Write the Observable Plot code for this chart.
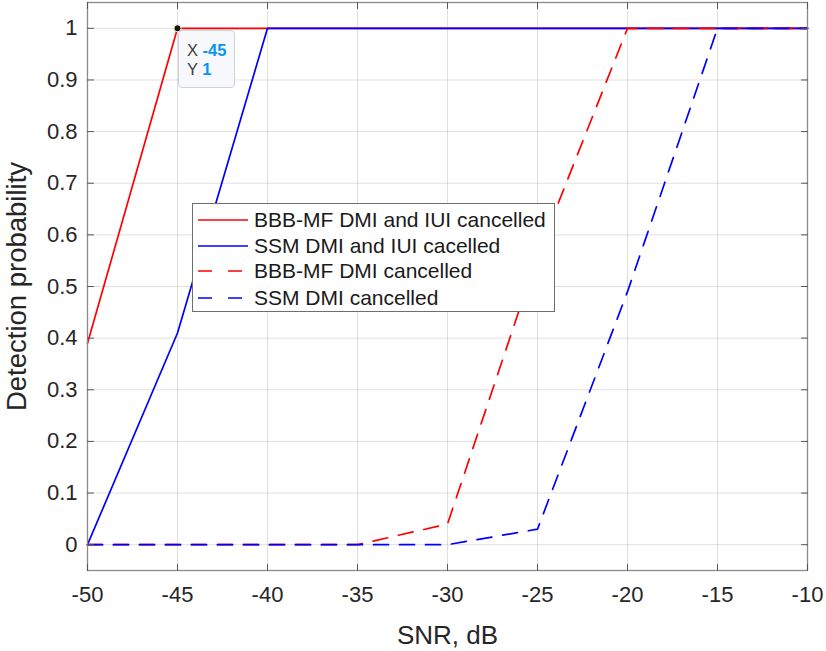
<!DOCTYPE html>
<html>
<head>
<meta charset="utf-8">
<script src="https://cdn.jsdelivr.net/npm/d3@7"></script>
<script src="https://cdn.jsdelivr.net/npm/@observablehq/plot@0.6"></script>
<style>
  body { margin: 0; background: #fff; }
  #wrap { position: relative; width: 826px; height: 651px; font-family: "Liberation Sans", Arial, Helvetica, sans-serif; }
  #legend { position: absolute; left: 192px; top: 203px; width: 363px; height: 109px; border: 1px solid #6e6e6e; background: #fff; box-sizing: border-box; }
  .row { position: absolute; left: 0; height: 26px; display: flex; align-items: center; font-size: 21px; color: #1a1a1a; white-space: nowrap; }
  .row svg { margin-left: 5px; margin-right: 6px; }
  #tip { position: absolute; left: 178px; top: 30px; width: 57px; height: 58px; border: 1px solid #cfd3d8; border-radius: 4px; background: rgba(246,248,251,0.95); box-sizing: border-box; font-size: 16.5px; }
  #tip div { position: absolute; left: 8px; color: #404040; }
  #tip b { color: #0a96f0; }
</style>
</head>
<body>
<div id="wrap"></div>
<script>
// ---- data ----
const snr = [-50, -45, -40, -35, -30, -25, -20, -15, -10];
const bbbFull = [0.39, 1, 1, 1, 1, 1, 1, 1, 1];       // BBB-MF DMI and IUI cancelled
const ssmFull = [0, 0.41, 1, 1, 1, 1, 1, 1, 1];       // SSM DMI and IUI cacelled
const bbbDmi  = [0, 0, 0, 0, 0.04, 0.56, 1, 1, 1];    // BBB-MF DMI cancelled
const ssmDmi  = [0, 0, 0, 0, 0, 0.03, 0.49, 1, 1];    // SSM DMI cancelled
const seriesNames = ["BBB-MF DMI and IUI cancelled", "SSM DMI and IUI cacelled", "BBB-MF DMI cancelled", "SSM DMI cancelled"];
const xTicks = [-50, -45, -40, -35, -30, -25, -20, -15, -10];
const xTickLabels = ["-50", "-45", "-40", "-35", "-30", "-25", "-20", "-15", "-10"];
const yTicks = [0, 0.1, 0.2, 0.3, 0.4, 0.5, 0.6, 0.7, 0.8, 0.9, 1];
const yTickLabels = ["0", "0.1", "0.2", "0.3", "0.4", "0.5", "0.6", "0.7", "0.8", "0.9", "1"];
const tipPoint = [{x: -45, y: 1}];
const xLabel = "SNR, dB";
const yLabel = "Detection probability";

const xDomain = [-50, -10];
const yDomain = [-0.05, 1.05];

const styles = [
  {color: "#ff0000", dash: null},
  {color: "#0000ff", dash: null},
  {color: "#ff0000", dash: "15,11"},
  {color: "#0000ff", dash: "15,11"}
];
const seriesVals = [bbbFull, ssmFull, bbbDmi, ssmDmi];
const toRows = vals => snr.map((x, i) => ({x, y: vals[i]}));

const tickShape = {draw(ctx, l) { ctx.moveTo(0, 0); ctx.lineTo(0, -l); }};
const tickOpts = {length: 6, anchor: "start", shape: tickShape, stroke: "#555", strokeWidth: 1};

const chart = Plot.plot({
  width: 826,
  height: 651,
  marginLeft: 87,
  marginRight: 19,
  marginTop: 2,
  marginBottom: 81,
  style: {fontFamily: "'Liberation Sans', Arial, Helvetica, sans-serif", background: "#fff", overflow: "visible"},
  x: {domain: xDomain},
  y: {domain: yDomain},
  marks: [
    Plot.gridX(xTicks, {stroke: "#000", strokeOpacity: 0.12, strokeWidth: 1}),
    Plot.gridY(yTicks, {stroke: "#000", strokeOpacity: 0.12, strokeWidth: 1}),
    Plot.axisX(xTicks, {tickSize: 0, tickPadding: 16, fontSize: 22, fill: "#262626", label: null,
      tickFormat: d => xTickLabels[xTicks.indexOf(d)]}),
    Plot.axisY(yTicks, {tickSize: 0, tickPadding: 10, fontSize: 22, fill: "#262626", label: null,
      tickFormat: d => yTickLabels[yTicks.indexOf(d)]}),
    ...seriesVals.map((vals, k) => Plot.line(toRows(vals), {
      x: "x", y: "y", stroke: styles[k].color, strokeWidth: 1.7,
      strokeDasharray: styles[k].dash, strokeLinejoin: "miter"
    })),
    Plot.frame({stroke: "#8a8a8a", strokeWidth: 1.3}),
    Plot.vector(xTicks, {x: d => d, y: () => yDomain[0], rotate: 0, ...tickOpts}),
    Plot.vector(xTicks, {x: d => d, y: () => yDomain[1], rotate: 180, ...tickOpts}),
    Plot.vector(yTicks, {x: () => xDomain[0], y: d => d, rotate: 90, ...tickOpts}),
    Plot.vector(yTicks, {x: () => xDomain[1], y: d => d, rotate: -90, ...tickOpts}),
    Plot.dot(tipPoint, {x: "x", y: "y", r: 3.5, fill: "#111", stroke: "#f3efc4", strokeWidth: 1}),
    Plot.text([xLabel], {frameAnchor: "bottom", lineAnchor: "top", dy: 55, fontSize: 26, fill: "#262626"}),
    Plot.text([yLabel], {frameAnchor: "left", textAnchor: "middle", rotate: -90, dx: -70, fontSize: 27.5, fill: "#262626"})
  ]
});

const wrap = document.getElementById("wrap");
wrap.appendChild(chart);

// legend
const legend = document.createElement("div");
legend.id = "legend";
const rowTops = [3, 29, 54, 81];
seriesNames.forEach((name, k) => {
  const row = document.createElement("div");
  row.className = "row";
  row.style.top = rowTops[k] + "px";
  const dash = styles[k].dash ? `stroke-dasharray="14,16"` : "";
  row.innerHTML = `<svg width="50" height="10"><line x1="0" y1="5" x2="50" y2="5" stroke="${styles[k].color}" stroke-width="1.7" ${dash}/></svg><span>${name}</span>`;
  legend.appendChild(row);
});
wrap.appendChild(legend);

// data tip
const tip = document.createElement("div");
tip.id = "tip";
tip.innerHTML = `<div style="top:10px">X <b>${tipPoint[0].x}</b></div><div style="top:29px">Y <b>${tipPoint[0].y}</b></div>`;
wrap.appendChild(tip);
</script>
</body>
</html>
